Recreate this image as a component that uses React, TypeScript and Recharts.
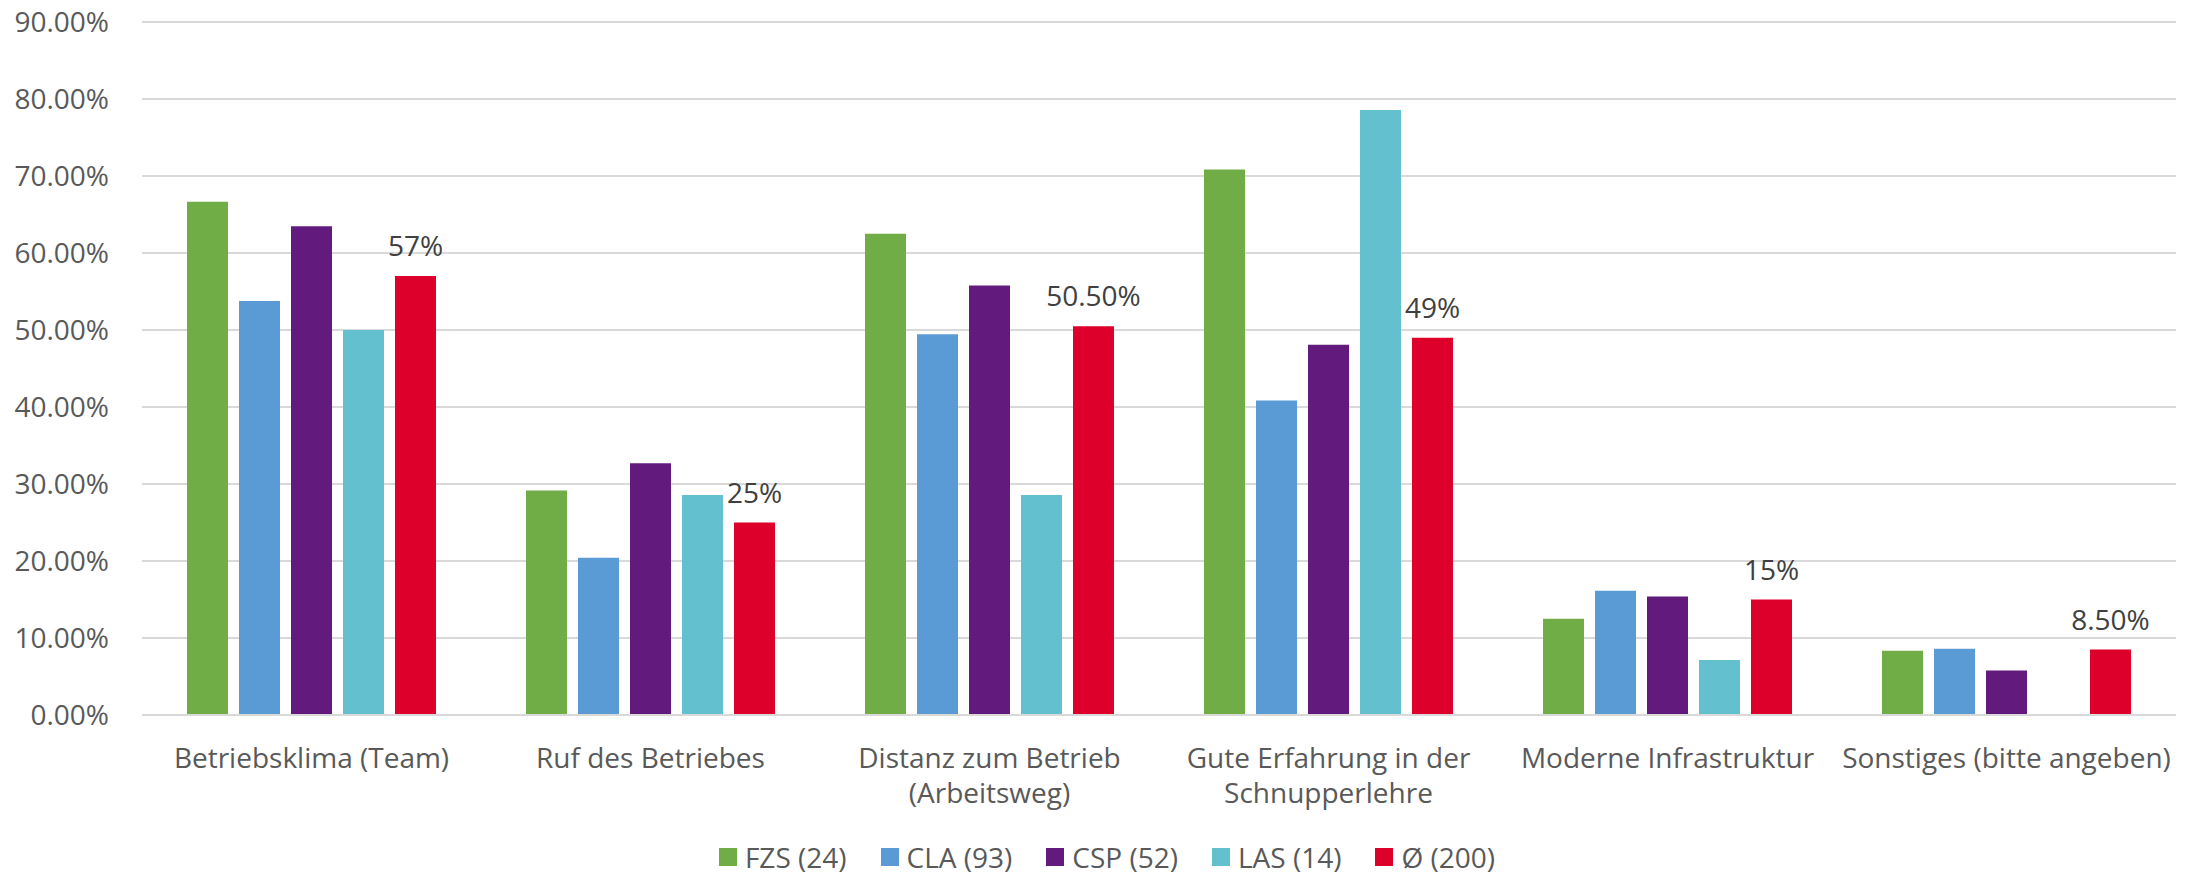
import { BarChart, Bar, XAxis, YAxis, CartesianGrid, Legend, LabelList } from 'recharts'

const CATEGORIES = [
  'Betriebsklima (Team)',
  'Ruf des Betriebes',
  'Distanz zum Betrieb\n(Arbeitsweg)',
  'Gute Erfahrung in der\nSchnupperlehre',
  'Moderne Infrastruktur',
  'Sonstiges (bitte angeben)',
]

const FZS = [66.67, 29.17, 62.5, 70.83, 12.5, 8.33]
const CLA = [53.76, 20.43, 49.46, 40.86, 16.13, 8.6]
const CSP = [63.46, 32.69, 55.77, 48.08, 15.38, 5.77]
const LAS = [50.0, 28.57, 28.57, 78.57, 7.14, 0]
const AVG = [57, 25, 50.5, 49, 15, 8.5]
const AVG_LABELS = ['57%', '25%', '50.50%', '49%', '15%', '8.50%']

const Y_TICKS = [0, 10, 20, 30, 40, 50, 60, 70, 80, 90]

const SERIES = [
  { key: 'fzs', name: 'FZS (24)', color: '#70AD47' },
  { key: 'cla', name: 'CLA (93)', color: '#5B9BD5' },
  { key: 'csp', name: 'CSP (52)', color: '#621B7D' },
  { key: 'las', name: 'LAS (14)', color: '#63C1CF' },
  { key: 'avg', name: 'Ø (200)', color: '#DC002B' },
]

const data = CATEGORIES.map((c, i) => ({
  category: c,
  fzs: FZS[i],
  cla: CLA[i],
  csp: CSP[i],
  las: LAS[i],
  avg: AVG[i],
  avgLabel: AVG_LABELS[i],
}))

const FONT = '"Open Sans", sans-serif'
const TEXT = '#595959'

function CategoryTick({ x, y, payload }: any) {
  const lines = String(payload.value).split('\n')
  return (
    <text x={x} y={y} textAnchor="middle" fill={TEXT} fontSize={28} fontFamily={FONT}>
      {lines.map((l, i) => (
        <tspan key={i} x={x} dy={i === 0 ? 45 : 35}>{l}</tspan>
      ))}
    </text>
  )
}

function LegendContent() {
  return (
    <div style={{ display: 'flex', justifyContent: 'center', alignItems: 'center', height: 34, paddingLeft: 72 }}>
      {SERIES.map((s) => (
        <div key={s.key} style={{ display: 'flex', alignItems: 'center', marginRight: 34 }}>
          <span style={{ width: 18, height: 18, background: s.color, marginRight: 8, display: 'inline-block' }} />
          <span style={{ fontFamily: FONT, fontSize: 28, color: TEXT, lineHeight: '34px' }}>{s.name}</span>
        </div>
      ))}
    </div>
  )
}

export default function App() {
  return (
    <div style={{ position: 'absolute', left: 0, top: 0, width: 2190, height: 874, background: '#fff', fontFamily: FONT }}>
      <BarChart
        width={2190}
        height={874}
        data={data}
        margin={{ top: 22, right: 14, left: 0, bottom: 0 }}
        barCategoryGap={45}
        barGap={11}
      >
        <CartesianGrid vertical={false} stroke="#d9d9d9" strokeWidth={2} />
        <XAxis
          dataKey="category"
          height={125}
          interval={0}
          tickLine={false}
          axisLine={{ stroke: '#d9d9d9', strokeWidth: 2 }}
          tick={<CategoryTick />}
        />
        <YAxis
          width={142}
          domain={[0, 90]}
          ticks={Y_TICKS}
          interval={0}
          axisLine={false}
          tickLine={false}
          tickMargin={27}
          tick={{ fill: TEXT, fontSize: 28, fontFamily: FONT }}
          tickFormatter={(v) => `${Number(v).toFixed(2)}%`}
        />
        <Legend verticalAlign="bottom" content={<LegendContent />} />
        {SERIES.map((s) => (
          <Bar key={s.key} dataKey={s.key} name={s.name} fill={s.color} isAnimationActive={false}>
            {s.key === 'avg' && (
              <LabelList
                dataKey="avgLabel"
                position="top"
                offset={20}
                fill="#404040"
                fontSize={28}
                fontFamily={FONT}
              />
            )}
          </Bar>
        ))}
      </BarChart>
    </div>
  )
}
